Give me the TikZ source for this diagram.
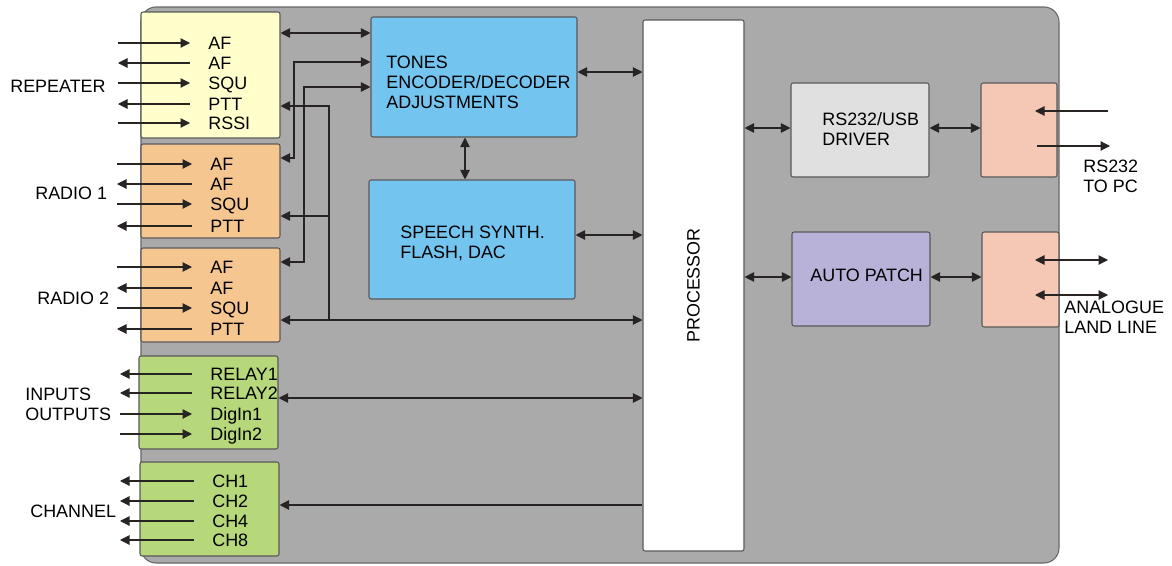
\documentclass[tikz,border=0pt]{standalone}
\usepackage{fontspec}
\setmainfont{Liberation Sans}
\usetikzlibrary{arrows.meta,fit}
\definecolor{casegray}{RGB}{170,170,170}
\definecolor{repcolor}{RGB}{255,255,204}
\definecolor{radcolor}{RGB}{246,198,144}
\definecolor{iocolor}{RGB}{182,215,122}
\definecolor{dspcolor}{RGB}{116,196,240}
\definecolor{drvcolor}{RGB}{224,224,224}
\definecolor{patchcolor}{RGB}{184,178,216}
\definecolor{portcolor}{RGB}{245,199,181}
\definecolor{wirecolor}{RGB}{40,36,36}
\tikzset{
  blk/.style={draw=black!65, line width=0.6pt, rounded corners=1.2pt, inner sep=0pt},
  wire/.style={draw=wirecolor, line width=0.6pt},
  tipto/.style={wire, -{Triangle[length=1.9mm,width=1.9mm]}},
  tipfrom/.style={wire, {Triangle[length=1.9mm,width=1.9mm]}-},
  tipboth/.style={wire, {Triangle[length=1.9mm,width=1.9mm]}-{Triangle[length=1.9mm,width=1.9mm]}},
  rowtxt/.style={anchor=west, inner xsep=3.6mm, inner ysep=0pt, text height=7.3pt, text depth=0pt},
  lbl/.style={anchor=west, inner sep=0pt, align=left},
}
\begin{document}
\begin{tikzpicture}[x=0.2mm, y=-0.2mm, every node/.style={font=\fontsize{10.2}{11.4}\selectfont}]
  \useasboundingbox (0,0) rectangle (1172,565);
  % Case
  \node[fit={(141,7) (1059,563)}, inner sep=0pt, draw=black!60, fill=casegray,
        rounded corners=3mm, line width=0.6pt] (case) {};
  % Interface blocks on the left
  \node[blk, fill=repcolor, fit={(141,12) (280,138)}] (rep) {};
  \node[blk, fill=radcolor, fit={(141,144) (280,238)}] (rad1) {};
  \node[blk, fill=radcolor, fit={(141,248) (280,342)}] (rad2) {};
  \node[blk, fill=iocolor, fit={(139,356) (278,449)}] (io) {};
  \node[blk, fill=iocolor, fit={(140,462) (279,556)}] (chan) {};
  % Function blocks
  \node[blk, fill=dspcolor, fit={(371,17) (577,137)}] (tones) {};
  \node[blk, fill=dspcolor, fit={(369,180) (575,299)}] (speech) {};
  \node[blk, fill=white, fit={(643,20) (744,551)}] (proc) {};
  \node[blk, fill=drvcolor, fit={(791,83) (929,177)}] (drv) {};
  \node[blk, fill=patchcolor, fit={(792,232) (930,326)}] (patch) {};
  \node[blk, fill=portcolor, fit={(981,83) (1057,177)}] (port1) {};
  \node[blk, fill=portcolor, fit={(982,232) (1059,327)}] (port2) {};
  % Block texts
  \node[lbl] (tonestxt) at (386,82) {TONES\\ENCODER/DECODER\\ADJUSTMENTS};
  \node[lbl] (speechtxt) at (400,243) {SPEECH SYNTH.\\FLASH, DAC};
  \node[rotate=90] (proctxt) at (proc.center) {PROCESSOR};
  \node[lbl] (drvtxt) at (822,129) {RS232/USB\\DRIVER};
  \node[lbl] (patchtxt) at (810,275) {AUTO PATCH};
  % Outside labels
  \node[lbl] (replbl) at (10,86) {REPEATER};
  \node[lbl] (rad1lbl) at (35,193) {RADIO 1};
  \node[lbl] (rad2lbl) at (37,298) {RADIO 2};
  \node[lbl] (iolbl) at (25,404) {INPUTS\\OUTPUTS};
  \node[lbl] (chanlbl) at (30,511) {CHANNEL};
  \node[lbl] (pclbl) at (1083,176) {RS232\\TO PC};
  \node[lbl] (linelbl) at (1064,317) {ANALOGUE\\LAND LINE};
  % Signal rows
  \foreach \n/\t/\y/\s in {repA/AF/43/tipto, repB/AF/63/tipfrom, repC/SQU/83/tipto,
      repD/PTT/104/tipfrom, repE/RSSI/123/tipto}{
    \node[rowtxt] (\n) at (190,\y) {\t};
    \draw[\s] (\n.west -| 118,0) -- (\n.west);
  }
  \foreach \n/\t/\y/\s in {raA/AF/164/tipto, raB/AF/184/tipfrom, raC/SQU/204/tipto,
      raD/PTT/226/tipfrom, rbA/AF/267/tipto, rbB/AF/288/tipfrom, rbC/SQU/308/tipto,
      rbD/PTT/329/tipfrom}{
    \node[rowtxt] (\n) at (192,\y) {\t};
    \draw[\s] (\n.west -| 117,0) -- (\n.west);
  }
  \foreach \n/\t/\y/\s in {ioA/RELAY1/374/tipfrom, ioB/RELAY2/393/tipfrom,
      ioC/DigIn1/414/tipto, ioD/DigIn2/434/tipto}{
    \node[rowtxt] (\n) at (192,\y) {\t};
    \draw[\s] (\n.west -| 120,0) -- (\n.west);
  }
  \foreach \n/\t/\y in {chA/CH1/481, chB/CH2/501, chC/CH4/521, chD/CH8/540}{
    \node[rowtxt] (\n) at (194,\y) {\t};
    \draw[tipfrom] (\n.west -| 120,0) -- (\n.west);
  }
  % Links between blocks
  \draw[tipboth] (rep.east |- 0,33) -- (tones.west |- 0,33);
  \draw[tipboth] (tones.west |- 0,62) -| (294,158) -- (rad1.east |- 0,158);
  \draw[tipboth] (tones.west |- 0,87) -| (304,262) -- (rad2.east |- 0,262);
  \coordinate (pttbus) at (329,320);
  \draw[tipfrom] (rep.east |- 0,106) -| (pttbus);
  \draw[tipfrom] (rad1.east |- 0,216) -- (pttbus |- 0,216);
  \draw[tipboth] (rad2.east |- pttbus) -- (proc.west |- pttbus);
  \draw[tipboth] (tones.east |- 0,72) -- (proc.west |- 0,72);
  \draw[tipboth] (tones.south -| 465,0) -- (speech.north -| 465,0);
  \draw[tipboth] (speech.east |- 0,235) -- (proc.west |- 0,235);
  \draw[tipboth] (io.east |- 0,398) -- (proc.west |- 0,398);
  \draw[tipfrom] (chan.east |- 0,505) -- (proc.west |- 0,505);
  \draw[tipboth] (proc.east |- 0,128) -- (drv.west |- 0,128);
  \draw[tipboth] (drv.east |- 0,128) -- (port1.west |- 0,128);
  \draw[tipboth] (proc.east |- 0,277) -- (patch.west |- 0,277);
  \draw[tipboth] (patch.east |- 0,277) -- (port2.west |- 0,277);
  % Outside lines at the ports
  \draw[tipto] (1108,111) -- (1035,111);
  \draw[tipto] (1037,146) -- (1110,146);
  \draw[tipboth] (1035,260) -- (1108,260);
  \draw[tipboth] (1035,295) -- (1108,295);
\end{tikzpicture}
\end{document}
